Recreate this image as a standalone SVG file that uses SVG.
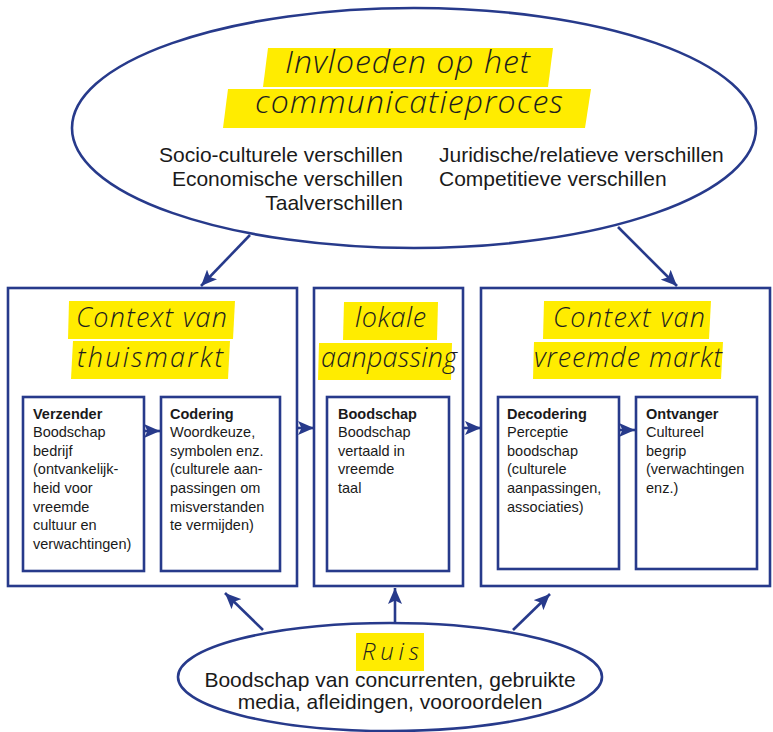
<svg xmlns="http://www.w3.org/2000/svg" width="773" height="732" viewBox="0 0 773 732">
<defs>
<marker id="ah" markerUnits="userSpaceOnUse" markerWidth="18" markerHeight="14" refX="16" refY="7" orient="auto">
<path d="M0,0 L16,7 L0,14 L3.5,7 Z" fill="#273a8b"/>
</marker>
</defs>
<style>
.ln{fill:none;stroke:#273a8b;stroke-width:2.6}
.bx{fill:#fff;stroke:#273a8b;stroke-width:2.6}
.hl{fill:#ffec00}
.hw{font-family:"Open Sans","DejaVu Sans",sans-serif;font-weight:300;font-style:italic;fill:#1e1e1e}
.t{font-family:"Liberation Sans",Arial,sans-serif;font-size:21px;fill:#1a1a1a}
.s{font-family:"Liberation Sans",Arial,sans-serif;font-size:14.5px;fill:#1a1a1a}
.b{font-weight:bold}
</style>
<rect width="773" height="732" fill="#fff"/>

<g id="influences">
<ellipse cx="414" cy="128" rx="342" ry="120" class="bx"/>
<polygon class="hl" points="268,48 553,48 548,87 263,87"/>
<polygon class="hl" points="228,89 591,89 585,128 223,128"/>
<text class="hw" x="285" y="73" font-size="32" textLength="245" lengthAdjust="spacing">Invloeden op het</text>
<text class="hw" x="255" y="113" font-size="32" textLength="308" lengthAdjust="spacing">communicatieproces</text>
<text class="t" x="403" y="162" text-anchor="end">Socio-culturele verschillen</text>
<text class="t" x="403" y="186" text-anchor="end">Economische verschillen</text>
<text class="t" x="403" y="210" text-anchor="end">Taalverschillen</text>
<text class="t" x="439" y="162">Juridische/relatieve verschillen</text>
<text class="t" x="439" y="186">Competitieve verschillen</text>
</g>

<g id="thuismarkt">
<rect x="8" y="288" width="289" height="298" class="bx"/>
<polygon class="hl" points="69,301 235,301 233,339 68,339"/>
<polygon class="hl" points="73,341 230,341 228,379 71,379"/>
<text class="hw" x="76" y="327" font-size="27" textLength="151" lengthAdjust="spacing">Context van</text>
<text class="hw" x="77" y="367" font-size="27" textLength="146" lengthAdjust="spacing">thuismarkt</text>
</g>

<g id="verzender">
<rect x="23" y="397" width="121" height="174" class="bx"/>
<text class="s b" x="33" y="418.5">Verzender</text>
<text class="s" x="33" y="437">Boodschap</text>
<text class="s" x="33" y="455.5">bedrijf</text>
<text class="s" x="33" y="474">(ontvankelijk-</text>
<text class="s" x="33" y="493">heid voor</text>
<text class="s" x="33" y="511.5">vreemde</text>
<text class="s" x="33" y="530">cultuur en</text>
<text class="s" x="33" y="549">verwachtingen)</text>
</g>

<g id="codering">
<rect x="161" y="397" width="119" height="174" class="bx"/>
<text class="s b" x="170" y="418.5">Codering</text>
<text class="s" x="170" y="437">Woordkeuze,</text>
<text class="s" x="170" y="455.5">symbolen enz.</text>
<text class="s" x="170" y="474">(culturele aan-</text>
<text class="s" x="170" y="493">passingen om</text>
<text class="s" x="170" y="511.5">misverstanden</text>
<text class="s" x="170" y="530">te vermijden)</text>
</g>

<g id="lokale-aanpassing">
<rect x="314" y="288" width="149" height="298" class="bx"/>
<polygon class="hl" points="344,302 438,302 437,340 343,340"/>
<polygon class="hl" points="319,343 452,343 451,380 318,380"/>
<text class="hw" x="355" y="327" font-size="27" textLength="71" lengthAdjust="spacing">lokale</text>
<text class="hw" x="321" y="367" font-size="27" textLength="136" lengthAdjust="spacing">aanpassing</text>
</g>

<g id="boodschap">
<rect x="327" y="397" width="122" height="174" class="bx"/>
<text class="s b" x="338" y="418.5">Boodschap</text>
<text class="s" x="338" y="437">Boodschap</text>
<text class="s" x="338" y="455.5">vertaald in</text>
<text class="s" x="338" y="474">vreemde</text>
<text class="s" x="338" y="493">taal</text>
</g>

<g id="vreemde-markt">
<rect x="481" y="288" width="289" height="298" class="bx"/>
<polygon class="hl" points="544,301 711,301 709,339 543,339"/>
<polygon class="hl" points="534,342 723,342 721,379 533,379"/>
<text class="hw" x="553" y="327" font-size="27" textLength="152" lengthAdjust="spacing">Context van</text>
<text class="hw" x="534" y="367" font-size="27" textLength="188" lengthAdjust="spacing">vreemde markt</text>
</g>

<g id="decodering">
<rect x="498" y="397" width="121" height="172" class="bx"/>
<text class="s b" x="507" y="418.5">Decodering</text>
<text class="s" x="507" y="437">Perceptie</text>
<text class="s" x="507" y="455.5">boodschap</text>
<text class="s" x="507" y="474">(culturele</text>
<text class="s" x="507" y="493">aanpassingen,</text>
<text class="s" x="507" y="511.5">associaties)</text>
</g>

<g id="ontvanger">
<rect x="636" y="397" width="121" height="172" class="bx"/>
<text class="s b" x="646" y="418.5">Ontvanger</text>
<text class="s" x="646" y="437">Cultureel</text>
<text class="s" x="646" y="455.5">begrip</text>
<text class="s" x="646" y="474">(verwachtingen</text>
<text class="s" x="646" y="493">enz.)</text>
</g>

<g id="ruis">
<ellipse cx="390" cy="677" rx="212" ry="54" class="bx"/>
<rect class="hl" x="356" y="633" width="68" height="38"/>
<text class="hw" x="362" y="660" font-size="24" textLength="57" lengthAdjust="spacing">Ruis</text>
<text class="t" x="390" y="687" text-anchor="middle">Boodschap van concurrenten, gebruikte</text>
<text class="t" x="390" y="709" text-anchor="middle">media, afleidingen, vooroordelen</text>
</g>

<g id="connectors">
<line class="ln" x1="250" y1="235" x2="201" y2="286" marker-end="url(#ah)"/>
<line class="ln" x1="618" y1="227" x2="677" y2="286" marker-end="url(#ah)"/>
<line class="ln" x1="144" y1="431" x2="160" y2="431" marker-end="url(#ah)"/>
<line class="ln" x1="297" y1="428" x2="314" y2="428" marker-end="url(#ah)"/>
<line class="ln" x1="463" y1="428" x2="481" y2="428" marker-end="url(#ah)"/>
<line class="ln" x1="619" y1="430" x2="635" y2="430" marker-end="url(#ah)"/>
<line class="ln" x1="263" y1="630" x2="225" y2="593" marker-end="url(#ah)"/>
<line class="ln" x1="395" y1="623" x2="395" y2="588" marker-end="url(#ah)"/>
<line class="ln" x1="513" y1="630" x2="550" y2="594" marker-end="url(#ah)"/>
</g>
</svg>
